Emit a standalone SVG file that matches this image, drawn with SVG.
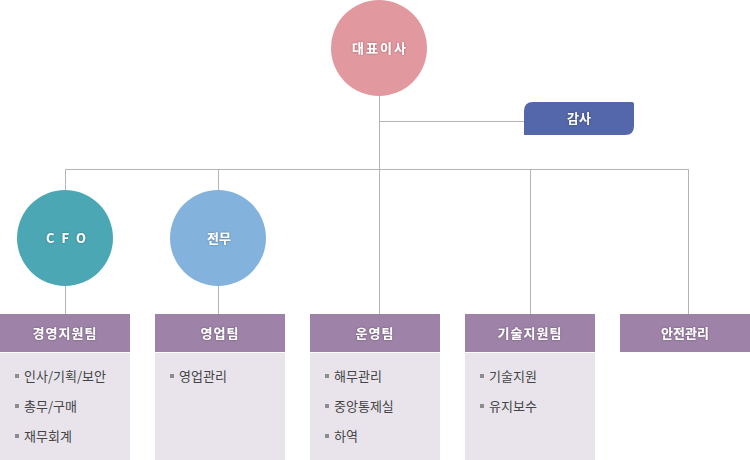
<svg xmlns="http://www.w3.org/2000/svg" width="750" height="460" viewBox="0 0 750 460">
<defs>
<filter id="sh" x="-20%" y="-50%" width="140%" height="200%">
<feDropShadow dx="0" dy="0" stdDeviation="1.2" flood-color="#000" flood-opacity="0.35"/>
</filter>
<style>
.ln{stroke:#b4b4b4;stroke-width:1;fill:none}
.ht{font-family:"Noto Sans CJK KR","Noto Sans",sans-serif;font-size:13px;font-weight:bold;fill:#fff;text-anchor:middle;filter:url(#sh)}
.hd{fill:#9e82a8}
.bd{fill:#e9e4ec}
.it{font-family:"Noto Sans CJK KR","Noto Sans",sans-serif;font-size:13px;fill:#444}
.bl{fill:#8c8c8c}
</style>
</defs>
<rect width="750" height="460" fill="#fff"/>
<g id="connectors">
<path class="ln" d="M379.5 96V314M379.5 121.5H524M65.5 169.5H688.5M65.5 169.5V190M218.5 169.5V190M530.5 169.5V314M688.5 169.5V314M65.5 286V314M218.5 286V314"/>
</g>
<g id="ceo">
<circle cx="379" cy="48" r="48" fill="#e2989f"/>
<text class="ht" x="380" y="53" letter-spacing="2">대표이사</text>
</g>
<g id="audit">
<path d="M533 102H632Q634 102 634 104V126Q634 135 625 135H524V111Q524 102 533 102Z" fill="#5467ab"/>
<text class="ht" x="579" y="123">감사</text>
</g>
<g id="cfo">
<circle cx="65" cy="238" r="48" fill="#4ca7b5"/>
<text class="ht" x="67" y="243" letter-spacing="2">C F O</text>
</g>
<g id="director">
<circle cx="218" cy="238" r="48" fill="#83b3dc"/>
<text class="ht" x="219" y="243">전무</text>
</g>
<g id="team1">
<rect class="hd" x="0" y="314" width="130" height="38"/>
<rect class="bd" x="0" y="353" width="130" height="107"/>
<text class="ht" x="65" y="338" letter-spacing="1">경영지원팀</text>
<rect class="bl" x="15" y="374" width="4" height="4"/><text class="it" x="24" y="381">인사/기획/보안</text>
<rect class="bl" x="15" y="404" width="4" height="4"/><text class="it" x="24" y="411">총무/구매</text>
<rect class="bl" x="15" y="434" width="4" height="4"/><text class="it" x="24" y="441">재무회계</text>
</g>
<g id="team2">
<rect class="hd" x="155" y="314" width="130" height="38"/>
<rect class="bd" x="155" y="353" width="130" height="107"/>
<text class="ht" x="220" y="338" letter-spacing="1">영업팀</text>
<rect class="bl" x="170" y="374" width="4" height="4"/><text class="it" x="179" y="381">영업관리</text>
</g>
<g id="team3">
<rect class="hd" x="310" y="314" width="130" height="38"/>
<rect class="bd" x="310" y="353" width="130" height="107"/>
<text class="ht" x="375" y="338" letter-spacing="1">운영팀</text>
<rect class="bl" x="325" y="374" width="4" height="4"/><text class="it" x="334" y="381">해무관리</text>
<rect class="bl" x="325" y="404" width="4" height="4"/><text class="it" x="334" y="411">중앙통제실</text>
<rect class="bl" x="325" y="434" width="4" height="4"/><text class="it" x="334" y="441">하역</text>
</g>
<g id="team4">
<rect class="hd" x="465" y="314" width="130" height="38"/>
<rect class="bd" x="465" y="353" width="130" height="107"/>
<text class="ht" x="530" y="338" letter-spacing="1">기술지원팀</text>
<rect class="bl" x="480" y="374" width="4" height="4"/><text class="it" x="489" y="381">기술지원</text>
<rect class="bl" x="480" y="404" width="4" height="4"/><text class="it" x="489" y="411">유지보수</text>
</g>
<g id="team5">
<rect class="hd" x="620" y="314" width="130" height="38"/>
<text class="ht" x="685" y="338">안전관리</text>
</g>
</svg>
